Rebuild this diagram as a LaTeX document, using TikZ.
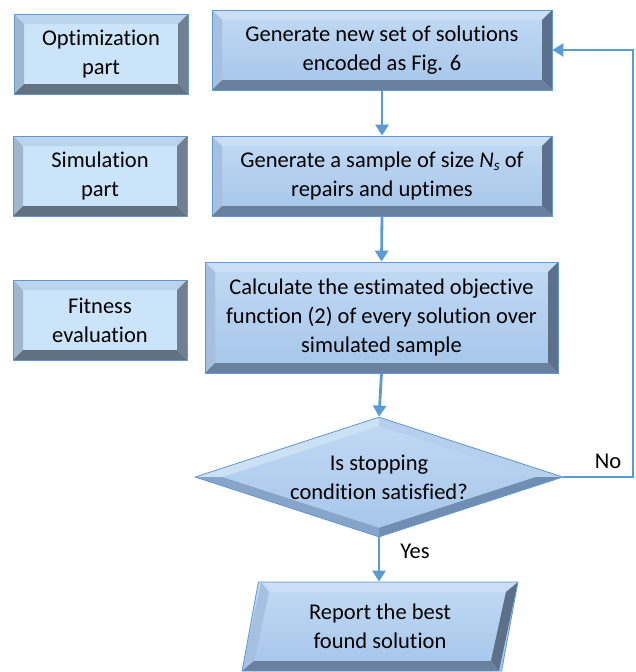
\documentclass[tikz,border=0pt]{standalone}
\usepackage{fontspec}
\setmainfont[Ligatures={NoCommon},Contextuals={NoAlternate}]{Carlito}
\usetikzlibrary{shapes.geometric,arrows.meta}
\definecolor{arrowblue}{RGB}{91,155,213}
\definecolor{edgeblue}{RGB}{95,152,210}
\definecolor{sideface}{RGB}{204,228,249}
\definecolor{sidetop}{RGB}{186,212,238}
\definecolor{sideleft}{RGB}{160,182,205}
\definecolor{sideright}{RGB}{112,128,145}
\definecolor{sidebottom}{RGB}{98,113,130}
\definecolor{mainfacetop}{RGB}{194,218,243}
\definecolor{mainfacebot}{RGB}{165,197,234}
\definecolor{maintop}{RGB}{202,223,245}
\definecolor{mainleft}{RGB}{165,192,225}
\definecolor{mainright}{RGB}{92,112,138}
\definecolor{mainbottom}{RGB}{105,128,158}
\definecolor{diaTL}{RGB}{205,225,245}
\definecolor{diaTR}{RGB}{182,207,236}
\definecolor{diaBR}{RGB}{112,142,178}
\definecolor{diaBL}{RGB}{135,165,200}
\newcommand\bevelrect[5]{%
  \path (path picture bounding box.north west) coordinate (A1)
        (path picture bounding box.north east) coordinate (A2)
        (path picture bounding box.south east) coordinate (A3)
        (path picture bounding box.south west) coordinate (A4);
  \path ([shift={(#1pt,-#1pt)}]A1) coordinate (B1)
        ([shift={(-#1pt,-#1pt)}]A2) coordinate (B2)
        ([shift={(-#1pt,#1pt)}]A3) coordinate (B3)
        ([shift={(#1pt,#1pt)}]A4) coordinate (B4);
  \fill[#2] (A1)--(A2)--(B2)--(B1)--cycle;
  \fill[#3] (A1)--(B1)--(B4)--(A4)--cycle;
  \fill[#4] (A2)--(A3)--(B3)--(B2)--cycle;
  \fill[#5] (A4)--(B4)--(B3)--(A3)--cycle;
}
\newcommand\diabevel{%
  \path (path picture bounding box.north) coordinate (T1)
        (path picture bounding box.east) coordinate (R1)
        (path picture bounding box.south) coordinate (S1)
        (path picture bounding box.west) coordinate (L1);
  \path ([yshift=-9pt]T1) coordinate (T2)
        ([xshift=-27pt]R1) coordinate (R2)
        ([yshift=9pt]S1) coordinate (S2)
        ([xshift=27pt]L1) coordinate (L2);
  \fill[diaTL] (L1)--(T1)--(T2)--(L2)--cycle;
  \fill[diaTR] (T1)--(R1)--(R2)--(T2)--cycle;
  \fill[diaBR] (R1)--(S1)--(S2)--(R2)--cycle;
  \fill[diaBL] (S1)--(L1)--(L2)--(S2)--cycle;
}
\newcommand\parbevel{%
  \path ([xshift=19pt]path picture bounding box.north west) coordinate (A1)
        (path picture bounding box.north east) coordinate (A2)
        ([xshift=-19pt]path picture bounding box.south east) coordinate (A3)
        (path picture bounding box.south west) coordinate (A4);
  \path ([shift={(8pt,-10pt)}]A1) coordinate (B1)
        ([shift={(-12pt,-10pt)}]A2) coordinate (B2)
        ([shift={(-8pt,10pt)}]A3) coordinate (B3)
        ([shift={(12pt,10pt)}]A4) coordinate (B4);
  \fill[maintop] (A1)--(A2)--(B2)--(B1)--cycle;
  \fill[mainleft] (A1)--(B1)--(B4)--(A4)--cycle;
  \fill[mainright] (A2)--(A3)--(B3)--(B2)--cycle;
  \fill[mainbottom] (A4)--(B4)--(B3)--(A3)--cycle;
}
\tikzset{
  sidebox/.style={draw=edgeblue, line width=1pt, fill=sideface, inner sep=0pt,
    align=center, minimum width=174pt, minimum height=80pt,
    path picture={\bevelrect{10}{sidetop}{sideleft}{sideright}{sidebottom}}},
  mainbox/.style={draw=edgeblue, line width=0.8pt, top color=mainfacetop,
    bottom color=mainfacebot, inner sep=0pt, align=center,
    minimum width=340pt, minimum height=80pt,
    path picture={\bevelrect{10}{maintop}{mainleft}{mainright}{mainbottom}}},
  decision/.style={diamond, draw=edgeblue, line width=0.8pt, top color=mainfacetop,
    bottom color=mainfacebot, inner sep=0pt,
    minimum width=368pt, minimum height=120pt, path picture={\diabevel}},
  iobox/.style={trapezium, trapezium left angle=78, trapezium right angle=102,
    trapezium stretches=true, draw=edgeblue, line width=0.8pt,
    top color=mainfacetop, bottom color=mainfacebot, inner sep=0pt, align=center,
    minimum width=276pt, minimum height=89pt, path picture={\parbevel}},
  flow/.style={draw=arrowblue, line width=2.8pt,
    -{Triangle[length=11pt,width=13pt]}},
  lbl/.style={inner sep=0pt}
}
\begin{document}
\begin{tikzpicture}[x=1pt,y=-1pt,font=\fontsize{22.5}{29}\selectfont]
\useasboundingbox (0,0) rectangle (636,672);
% side labels
\node[sidebox] (opt) at (101,54) {Optimization\\part};
\node[sidebox] (sim) at (100,176) {Simulation\\part};
\node[sidebox] (fit) at (100,320) {Fitness\\evaluation};
% main flow
\node[mainbox] (gen) at (382,50) {Generate new set of solutions\\encoded as Fig. 6};
\node[mainbox] (samp) at (382,176) {Generate a sample of size \textit{N}\raisebox{-0.3ex}{\fontsize{15}{15}\selectfont\textit{s}} of\\repairs and uptimes};
\node[mainbox, minimum width=353pt, minimum height=111pt] (calc) at (381.5,317.5)
  {Calculate the estimated objective\\function (2) of every solution over\\simulated sample};
\node[decision] (dec) at (379,477) {};
\node[lbl, align=center] (dectext) at (dec.center) {Is stopping\\condition satisfied?};
\node[iobox] (rep) at (380,626.5) {\fontsize{22.5}{26}\selectfont Report the best\\found solution};
% connectors
\coordinate (loop) at (633,50);
\draw[flow] (gen.south) -- (samp.north);
\draw[flow] (samp.south) -- (calc.north);
\draw[flow] (calc.south) -- (dec.north);
\draw[flow] (dec.south) -- (dec.south |- rep.north);
\draw[flow] (dec.east) -| (loop) -- (gen.east);
% labels
\node[lbl] (no) at (608,461) {No};
\node[lbl] (yes) at (415,551) {Yes};
\end{tikzpicture}
\end{document}
